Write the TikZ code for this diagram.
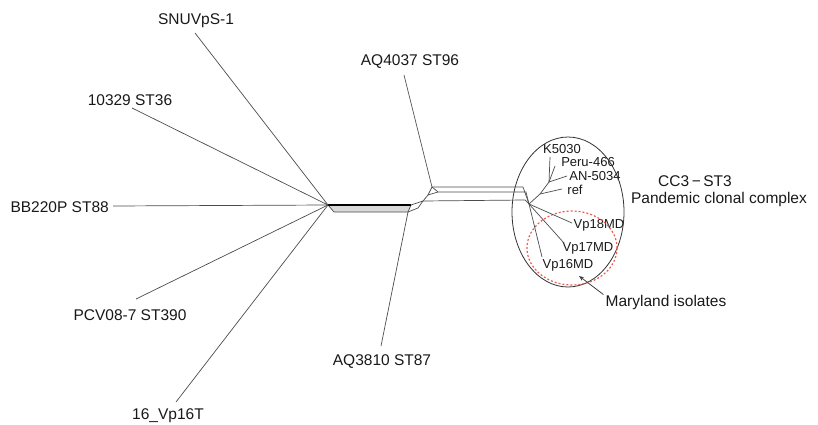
\documentclass[tikz,border=0pt]{standalone}
\usepackage{fontspec}
\setmainfont{Liberation Sans}
\usetikzlibrary{arrows.meta}
\usetikzlibrary{shapes.geometric}

\definecolor{mdred}{RGB}{238,92,82}

\begin{document}
\begin{tikzpicture}[
      x=1pt, y=-1pt,
      taxon/.style={inner sep=0pt, text=black!90, font=\fontsize{15.5}{17}\selectfont},
      subtaxon/.style={inner sep=0pt, text=black!90, font=\fontsize{13}{15}\selectfont},
      edge/.style={draw=black!70, line width=0.7pt},
      trunk/.style={draw=black, line width=1.8pt},
      ring/.style={draw=black!80, ellipse, line width=0.8pt, inner sep=0pt},
      redring/.style={draw=mdred, ellipse, dash pattern=on 2pt off 2pt, line width=1.2pt, inner sep=0pt},
      pointer/.style={-{Stealth[length=5pt, width=4pt]}, draw=black!75, line width=0.8pt}
    ]
    \useasboundingbox (0,0) rectangle (818,425);

    % taxa on the left and middle
    \node[taxon] (snu) at (196,21) {SNUVpS-1};
    \node[taxon] (st36) at (130,100) {10329 ST36};
    \node[taxon, anchor=east] (st88) at (109,207) {BB220P ST88};
    \node[taxon] (st390) at (130,315) {PCV08-7 ST390};
    \node[taxon] (vp16t) at (168,416) {16\_Vp16T};
    \node[taxon] (st96) at (410,62) {AQ4037 ST96};
    \node[taxon] (st87) at (382,362) {AQ3810 ST87};

    % taxa in the clonal complex
    \node[subtaxon] (k5030) at (562,149) {K5030};
    \node[subtaxon] (peru) at (588,162) {Peru-466};
    \node[subtaxon] (an5034) at (595,176) {AN-5034};
    \node[subtaxon] (ref) at (575,190) {ref};
    \node[subtaxon] (vp18) at (599,225) {Vp18MD};
    \node[subtaxon] (vp17) at (588,248) {Vp17MD};
    \node[subtaxon] (vp16) at (568,265) {Vp16MD};

    \node[taxon] (cc3) at (695,181) {CC3\,−\,ST3};
    \node[taxon] (pandemic) at (719,199) {Pandemic clonal complex};
    \node[taxon] (maryland) at (666,302) {Maryland isolates};

    \node[ring, minimum width=112pt, minimum height=150pt] (cc3ring) at (568,212) {};
    \node[redring, minimum width=90pt, minimum height=74pt] (mdring) at (572,248) {};

    % splits network
    \coordinate (hub) at (328,205);
    \coordinate (hubb) at (334,212);
    \coordinate (ja) at (411,205);
    \coordinate (jb) at (408,212);
    \coordinate (jc) at (423,201);
    \coordinate (jd) at (418,208);
    \coordinate (je) at (428,195);
    \coordinate (jf) at (432,187);
    \coordinate (jg) at (438,192);
    \coordinate (ka) at (523,187);
    \coordinate (kb) at (526,192);
    \coordinate (kc) at (525,200);
    \coordinate (k0) at (529,204);
    \coordinate (k1) at (540,194);
    \coordinate (k2) at (549,182);

    % leaf ends
    \coordinate (e-snu) at (195,33);
    \coordinate (e-st36) at (132,108);
    \coordinate (e-st88) at (113,206);
    \coordinate (e-st390) at (136,299);
    \coordinate (e-vp16t) at (176,402);
    \coordinate (e-st96) at (404,75);
    \coordinate (e-st87) at (381,346);
    \coordinate (e-k5030) at (550,157);
    \coordinate (e-peru) at (555,166);
    \coordinate (e-an5034) at (567,176);
    \coordinate (e-ref) at (562,189);
    \coordinate (e-vp18) at (572,223);
    \coordinate (e-vp17) at (564,243);
    \coordinate (e-vp16) at (542,257);
    \coordinate (mdtip) at (579,276);

    \fill[black!15] (hub) -- (ja) -- (jb) -- (hubb) -- cycle;
    \draw[edge] (hub) -- (hubb) -- (jb) -- (ja);
    \draw[trunk] (hub) -- (ja);
    \draw[edge] (ja) -- (jc);
    \draw[edge] (jb) -- (jd) -- (jc);
    \draw[edge] (jc) -- (je);
    \draw[edge] (je) -- (jf);
    \draw[edge] (je) -- (jg);
    \draw[edge] (jf) -- (jg);
    \draw[edge] (jf) -- (ka) -- (k0);
    \draw[edge] (jg) -- (kb) -- (k0);
    \draw[edge] (jc) -- (kc) -- (k0);

    \foreach \leaf in {snu, st36, st88, st390, vp16t}
      \draw[edge] (e-\leaf) -- (hub);
    \draw[edge] (e-st96) -- (jf);
    \draw[edge] (e-st87) -- (jb);

    \draw[edge] (k0) -- (k1) -- (k2);
    \draw[edge] (k2) -- (e-k5030);
    \draw[edge] (k2) -- (e-peru);
    \draw[edge] (k2) -- (e-an5034);
    \draw[edge] (k1) -- (e-ref);
    \draw[edge] (k0) -- (e-vp18);
    \draw[edge] (k0) -- (e-vp17);
    \draw[edge] (k0) -- (e-vp16);

    \draw[pointer] ([xshift=-2pt]maryland.north west) -- (mdtip);
  \end{tikzpicture}
\end{document}
